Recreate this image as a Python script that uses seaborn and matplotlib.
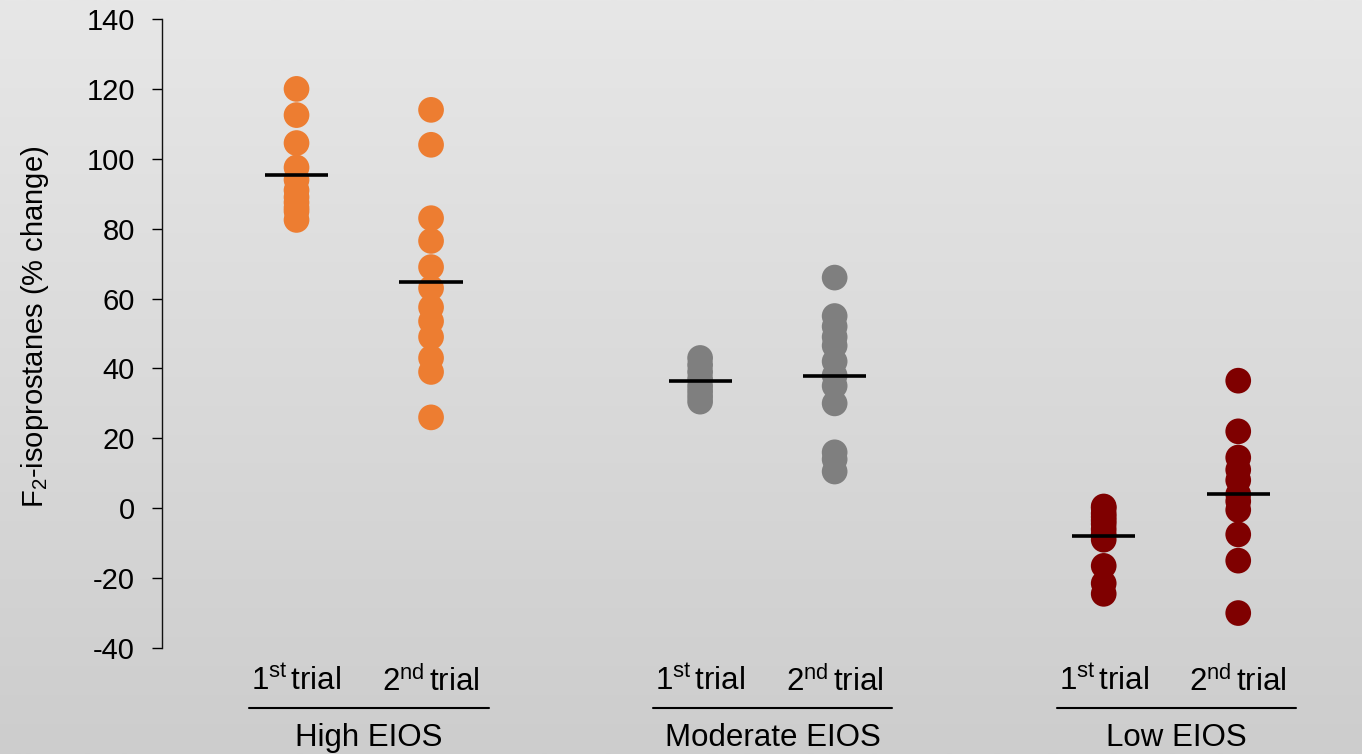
import numpy as np
import pandas as pd
import matplotlib
matplotlib.use("Agg")
import matplotlib.pyplot as plt
import matplotlib.transforms as mtransforms
import seaborn as sns

# F2-isoprostane % change per subject, by EIOS group and trial
high_1st = [120, 112.5, 104.5, 97.5, 94, 91, 89, 87.5, 86, 85, 82.5]
high_2nd = [114, 104, 83, 76.5, 69, 63, 57.5, 53.5, 49, 43, 39, 26]
mod_1st = [43, 41, 39, 37, 35, 33.5, 32, 30.5]
mod_2nd = [66, 55, 52, 49, 46.5, 42, 38, 35, 30, 16, 14, 10.5]
low_1st = [0.5, 0, -1.5, -2.5, -3.5, -4.5, -6, -7.5, -9, -16.5, -21.5, -24.5]
low_2nd = [36.5, 22, 14.5, 11, 8, 4, 2, -0.5, -7.5, -15, -30]

groups = ["High EIOS", "Moderate EIOS", "Low EIOS"]
trial_labels = [r"1$^{\mathrm{st}}\,$trial", r"2$^{\mathrm{nd}}\,$trial"]
series = [(high_1st, high_2nd), (mod_1st, mod_2nd), (low_1st, low_2nd)]
positions = [(0, 1), (3, 4), (6, 7)]
colors = {"High EIOS": "#ED7D31", "Moderate EIOS": "#7F7F7F", "Low EIOS": "#7F0000"}

rows = []
for g, (s1, s2), (p1, p2) in zip(groups, series, positions):
    rows += [{"group": g, "pos": p1, "value": v} for v in s1]
    rows += [{"group": g, "pos": p2, "value": v} for v in s2]
df = pd.DataFrame(rows)

sns.set_theme(style="ticks")
plt.rcParams["font.family"] = ["Liberation Sans", "DejaVu Sans"]
plt.rcParams["mathtext.fontset"] = "custom"
plt.rcParams["mathtext.rm"] = "Liberation Sans"
plt.rcParams["mathtext.it"] = "Liberation Sans:italic"
plt.rcParams["axes.unicode_minus"] = False
plt.rcParams["text.color"] = "black"
plt.rcParams["axes.labelcolor"] = "black"
plt.rcParams["xtick.color"] = "black"
plt.rcParams["ytick.color"] = "black"

W, H = 1362, 754
fig = plt.figure(figsize=(W / 100, H / 100), dpi=100)

# soft vertical grey gradient behind everything
bg = fig.add_axes([0, 0, 1, 1], zorder=-10)
grad = np.linspace(0, 1, 256).reshape(-1, 1)
bg.imshow(grad, aspect="auto", extent=[0, 1, 0, 1],
          cmap=matplotlib.colors.LinearSegmentedColormap.from_list("bg", ["#e7e7e7", "#cdcdcd"]))
bg.set_axis_off()

ax = fig.add_axes([162 / W, (H - 648) / H, 1 - 162 / W, (648 - 19) / H])
ax.set_facecolor("none")

sns.stripplot(data=df, x="pos", y="value", hue="group", palette=colors,
              native_scale=True, jitter=False, size=18.5, linewidth=0,
              legend=False, ax=ax, zorder=2)

# group means as short horizontal bars
means = df.groupby("pos")["value"].mean()
ax.hlines(means.values, means.index - 0.235, means.index + 0.235,
          colors="black", linewidth=2.6, zorder=3)

ax.set_xlim(-1.0, 7.92)
ax.set_ylim(-40, 140)
ax.set_yticks(range(-40, 141, 20))
ax.set_xticks([p for pair in positions for p in pair])
ax.set_xticklabels(trial_labels * 3)
ax.tick_params(axis="y", labelsize=21, length=7, width=1, color="black",
               labelcolor="black", pad=12.5)
ax.tick_params(axis="x", labelsize=22.5, length=0, pad=13, labelcolor="black")
ax.set_xlabel("")
sns.despine(ax=ax, bottom=True)
ax.spines["left"].set_color("#111111")
ax.spines["left"].set_linewidth(1)

ax.set_ylabel(r"F$_2$-isoprostanes (% change)", fontsize=21, color="black")
ax.yaxis.set_label_coords(-0.106, 0.51)
ax.yaxis.label.set_verticalalignment("center")

# group captions with an underline spanning both trials
trans = mtransforms.blended_transform_factory(ax.transData, ax.transAxes)
for g, (p1, p2) in zip(groups, positions):
    ax.plot([p1 - 0.35, p2 + 0.43], [-0.0954, -0.0954], color="black",
            linewidth=1.5, transform=trans, clip_on=False)
    ax.text((p1 + p2) / 2 + 0.04, -0.1431, g, transform=trans, ha="center",
            va="center", fontsize=22.5, color="black")

fig.savefig("out.png", dpi=100)
